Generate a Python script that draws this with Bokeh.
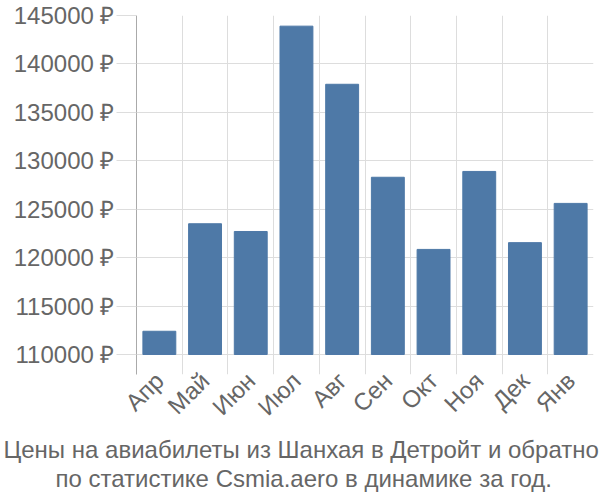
import numpy as np
from bokeh.plotting import figure
from bokeh.models import FixedTicker, Range1d, Title, CustomJSTickFormatter, ColumnDataSource
from bokeh.embed import file_html
from bokeh.resources import INLINE

months = ["Апр", "Май", "Июн", "Июл", "Авг", "Сен", "Окт", "Ноя", "Дек", "Янв"]
prices = [112400, 123500, 122700, 143900, 137900, 128300, 120850, 128900, 121550, 125600]
y_ticks = [110000, 115000, 120000, 125000, 130000, 135000, 140000, 145000]
title_lines = ["Цены на авиабилеты из Шанхая в Детройт и обратно",
               "по статистике Csmia.aero в динамике за год."]
title_offsets = [-133, -81]

FONT = "Liberation Sans"
TXT = "#666666"
GRID = "#dddddd"

x = np.arange(len(months)) + 0.5
src = ColumnDataSource(dict(x=x, top=prices, month=months))

p = figure(width=600, height=500, output_backend="svg", toolbar_location=None,
           x_range=Range1d(0, len(months)), y_range=Range1d(107935, 145000),
           min_border_left=136, min_border_right=7, min_border_top=15,
           min_border_bottom=126)
p.outline_line_color = None
p.background_fill_color = "white"
p.border_fill_color = "white"

p.vbar(x="x", top="top", bottom=110000, width=0.72, source=src,
       fill_color="#4e79a7", line_color="#4e79a7")

# y axis
ya = p.yaxis[0]
ya.ticker = FixedTicker(ticks=y_ticks)
ya.formatter = CustomJSTickFormatter(code="return tick.toFixed(0) + ' ₽';")
ya.major_tick_out = 20
ya.major_tick_in = 0
ya.major_tick_line_color = GRID
ya.minor_tick_line_color = None
ya.axis_line_color = "#aaaaaa"
ya.major_label_standoff = 2
ya.major_label_text_font = FONT
ya.major_label_text_font_size = "24px"
ya.major_label_text_color = TXT

# x axis
xa = p.xaxis[0]
xa.ticker = FixedTicker(ticks=list(x))
xa.formatter = CustomJSTickFormatter(args=dict(labels=months),
                                     code="return labels[Math.floor(tick)];")
xa.axis_line_color = None
xa.major_tick_line_color = None
xa.minor_tick_line_color = None
xa.major_tick_out = 0
xa.major_label_orientation = np.pi / 4
xa.major_label_standoff = 2
xa.major_label_text_font = FONT
xa.major_label_text_font_size = "24px"
xa.major_label_text_color = TXT

p.xgrid.ticker = FixedTicker(ticks=list(range(len(months) + 1)))
p.xgrid.grid_line_color = GRID
p.ygrid.grid_line_color = GRID

for line, off in zip(title_lines, title_offsets):
    p.add_layout(Title(text=line, align="left", offset=off, text_font=FONT,
                       text_font_size="24px", text_font_style="normal",
                       text_color=TXT, standoff=0), "below")

open("out.html", "w").write(file_html(p, INLINE))
